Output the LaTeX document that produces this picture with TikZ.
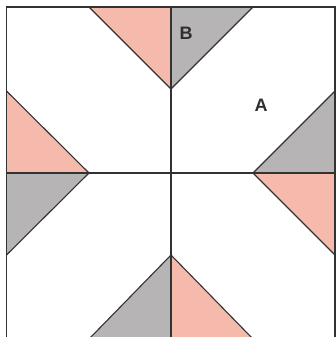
\documentclass[tikz,border=0pt]{standalone}
\usepackage{fontspec}
\setmainfont{Liberation Sans}
\definecolor{pinkpatch}{RGB}{245,186,172}
\definecolor{graypatch}{RGB}{182,180,180}
\definecolor{seam}{RGB}{50,50,50}
\begin{document}
\begin{tikzpicture}[x=1pt,y=-1pt,
  seamline/.style={draw=seam,line width=1.1pt},
  pinkfill/.style={fill=pinkpatch},
  grayfill/.style={fill=graypatch},
  letter/.style={text=seam!95!black,font=\fontsize{18}{18}\selectfont\bfseries,inner sep=0pt}]
\useasboundingbox (0,0) rectangle (336,337);
\fill[white] (0,0) rectangle (336,337);
\begin{scope}
\clip (0,0) rectangle (336,337);
% named points
\coordinate (C) at (171,173);
\coordinate (TL) at (89,7);
\coordinate (TM) at (171,7);
\coordinate (TR) at (253,7);
\coordinate (TA) at (171,89);
\coordinate (LT) at (6.5,91);
\coordinate (LM) at (6.5,173);
\coordinate (LB) at (6.5,255);
\coordinate (LA) at (89,173);
\coordinate (RT) at (335,91);
\coordinate (RM) at (335,173);
\coordinate (RB) at (335,255);
\coordinate (RA) at (253,173);
\coordinate (BL) at (89,339);
\coordinate (BM) at (171,339);
\coordinate (BR) at (253,339);
\coordinate (BA) at (171,255);
% fills
\fill[pinkfill] (TL) -- (TM) -- (TA) -- cycle;
\fill[grayfill] (TM) -- (TR) -- (TA) -- cycle;
\fill[pinkfill] (LT) -- (LM) -- (LA) -- cycle;
\fill[grayfill] (LM) -- (LB) -- (LA) -- cycle;
\fill[grayfill] (RT) -- (RM) -- (RA) -- cycle;
\fill[pinkfill] (RM) -- (RB) -- (RA) -- cycle;
\fill[grayfill] (BL) -- (BM) -- (BA) -- cycle;
\fill[pinkfill] (BM) -- (BR) -- (BA) -- cycle;
% seams
\draw[seamline] (6.5,339) -- (6.5,7) -- (335,7) -- (335,339);
\draw[seamline] (LM) -- (RM);
\draw[seamline] (TM) -- (BM);
\draw[seamline] (TL) -- (TA) -- (TR);
\draw[seamline] (LT) -- (LA) -- (LB);
\draw[seamline] (RT) -- (RA) -- (RB);
\draw[seamline] (BL) -- (BA) -- (BR);
\end{scope}
\node[letter] (labB) at (186,33) {B};
\node[letter] (labA) at (261,105) {A};
\end{tikzpicture}
\end{document}
